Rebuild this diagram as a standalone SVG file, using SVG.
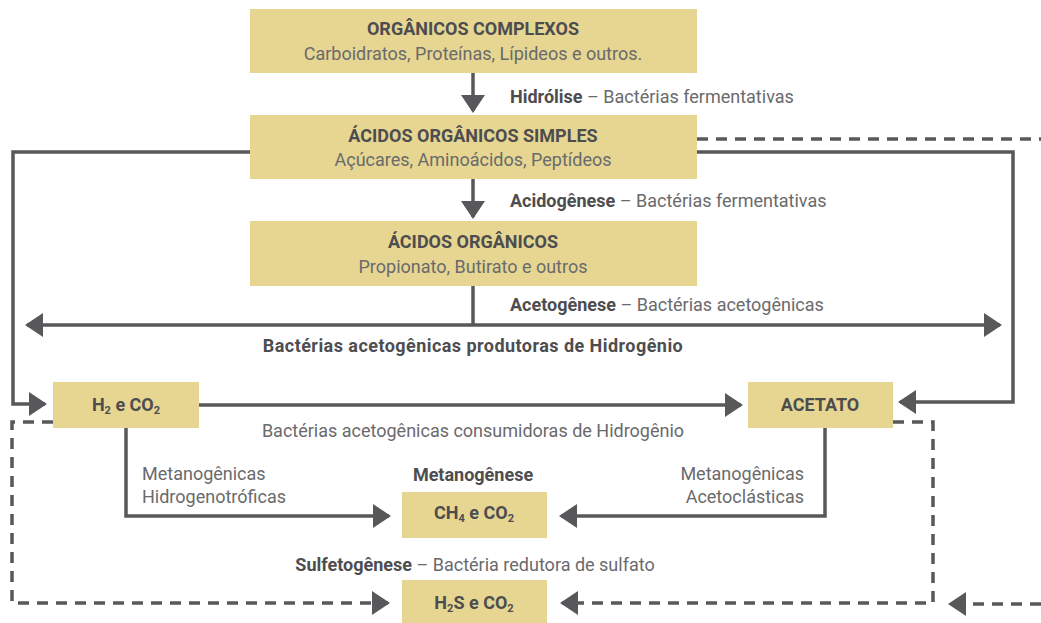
<svg xmlns="http://www.w3.org/2000/svg" width="1041" height="623" viewBox="0 0 1041 623">
  <style>
    .box { fill: #e6d692; }
    .t { font-family: Roboto, "Liberation Sans", sans-serif; text-anchor: middle; }
    .h { font-weight: bold; fill: #4d4d4f; font-size: 18px; }
    .s { fill: #6a6a6c; font-size: 18px; }
    .lbl { font-family: Roboto, "Liberation Sans", sans-serif; font-size: 18px; fill: #6a6a6c; }
    .lbl .b { font-weight: bold; fill: #4d4d4f; }
    .wide { letter-spacing: 0.45px; }
    .sub { font-size: 11px; }
    .ln { fill: none; stroke: #58585a; stroke-width: 3.5; }
    .dash { stroke-dasharray: 11 8; }
  </style>
  <defs>
    <marker id="arr" viewBox="0 0 18 24" refX="16" refY="12" markerWidth="18" markerHeight="24" markerUnits="userSpaceOnUse" orient="auto-start-reverse">
      <path d="M0,0 L18,12 L0,24 Z" fill="#58585a"/>
    </marker>
  </defs>

  <!-- connectors -->
  <g id="connectors">
    <path class="ln" d="M473,73 V111" marker-end="url(#arr)"/>
    <path class="ln" d="M473,179 V217" marker-end="url(#arr)"/>
    <path class="ln" d="M473,286 V325"/>
    <path class="ln" d="M27,325 H1000" marker-start="url(#arr)" marker-end="url(#arr)"/>
    <path class="ln" d="M250,152 H13 V404 H45" marker-end="url(#arr)"/>
    <path class="ln" d="M697,152 H1013 V402 H900" marker-end="url(#arr)"/>
    <path class="ln" d="M199,405 H741" marker-end="url(#arr)"/>
    <path class="ln" d="M126,428 V516 H389" marker-end="url(#arr)"/>
    <path class="ln" d="M825,428 V516 H561" marker-end="url(#arr)"/>
    <path class="ln dash" d="M697,139 H1041"/>
    <path class="ln dash" d="M53,422 H12 V603 H388" marker-end="url(#arr)"/>
    <path class="ln dash" d="M893,422 H933 V603 H562" marker-end="url(#arr)"/>
    <path class="ln dash" d="M1041,604 H950" marker-end="url(#arr)"/>
  </g>

  <!-- process nodes -->
  <g id="organicos-complexos">
    <rect class="box" x="250" y="9" width="447" height="64"/>
    <text class="t h" x="473" y="35">ORGÂNICOS COMPLEXOS</text>
    <text class="t s" x="473" y="60">Carboidratos, Proteínas, Lípideos e outros.</text>
  </g>
  <g id="acidos-organicos-simples">
    <rect class="box" x="250" y="115" width="447" height="64"/>
    <text class="t h" x="473" y="142">ÁCIDOS ORGÂNICOS SIMPLES</text>
    <text class="t s" x="473" y="166">Açúcares, Aminoácidos, Peptídeos</text>
  </g>
  <g id="acidos-organicos">
    <rect class="box" x="250" y="221" width="447" height="65"/>
    <text class="t h" x="473" y="248">ÁCIDOS ORGÂNICOS</text>
    <text class="t s" x="473" y="273">Propionato, Butirato e outros</text>
  </g>
  <g id="h2-co2">
    <rect class="box" x="53" y="382" width="146" height="46"/>
    <text class="t h" x="126" y="411">H<tspan class="sub" dy="3">2</tspan><tspan dy="-3"> e CO</tspan><tspan class="sub" dy="3">2</tspan></text>
  </g>
  <g id="acetato">
    <rect class="box" x="748" y="382" width="145" height="46"/>
    <text class="t h" x="820" y="411">ACETATO</text>
  </g>
  <g id="ch4-co2">
    <rect class="box" x="402" y="492" width="145" height="46"/>
    <text class="t h" x="474" y="519">CH<tspan class="sub" dy="3">4</tspan><tspan dy="-3"> e CO</tspan><tspan class="sub" dy="3">2</tspan></text>
  </g>
  <g id="h2s-co2">
    <rect class="box" x="402" y="580" width="145" height="45"/>
    <text class="t h" x="474" y="609">H<tspan class="sub" dy="3">2</tspan><tspan dy="-3">S e CO</tspan><tspan class="sub" dy="3">2</tspan></text>
  </g>

  <!-- stage labels -->
  <g id="labels">
    <text class="lbl" x="510" y="103"><tspan class="b">Hidrólise</tspan> – Bactérias fermentativas</text>
    <text class="lbl" x="510" y="207"><tspan class="b">Acidogênese</tspan> – Bactérias fermentativas</text>
    <text class="lbl" x="510" y="311"><tspan class="b">Acetogênese</tspan> – Bactérias acetogênicas</text>
    <text class="t h wide" x="473" y="352">Bactérias acetogênicas produtoras de Hidrogênio</text>
    <text class="t s" x="473" y="437">Bactérias acetogênicas consumidoras de Hidrogênio</text>
    <text class="lbl" x="142" y="480">Metanogênicas</text>
    <text class="lbl" x="142" y="503">Hidrogenotróficas</text>
    <text class="lbl" x="804" y="480" text-anchor="end">Metanogênicas</text>
    <text class="lbl" x="804" y="503" text-anchor="end">Acetoclásticas</text>
    <text class="t h" x="473" y="481">Metanogênese</text>
    <text class="lbl" x="475" y="571" text-anchor="middle"><tspan class="b">Sulfetogênese</tspan> – Bactéria redutora de sulfato</text>
  </g>
</svg>
